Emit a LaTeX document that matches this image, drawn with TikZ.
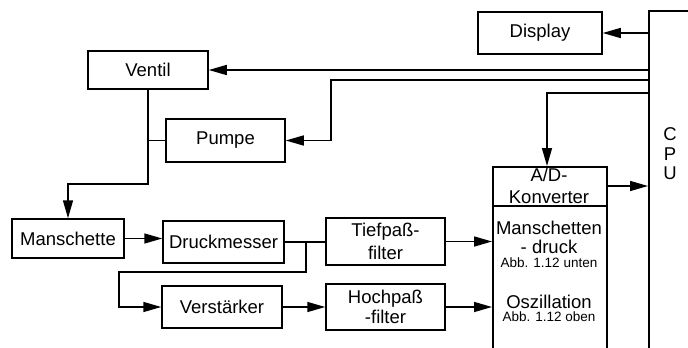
\documentclass[tikz,border=0pt]{standalone}
\usepackage{fontspec}
\setmainfont{Liberation Sans}
\usetikzlibrary{arrows.meta}
\begin{document}
\begin{tikzpicture}[x=1pt,y=-1pt,
  every node/.style={font=\fontsize{18.5}{21}\selectfont},
  box/.style={draw, line width=1.5pt, inner sep=0pt, align=center},
  label/.style={inner sep=0pt, align=center},
  small/.style={inner sep=0pt, font=\fontsize{13.5}{15}\selectfont},
  wire/.style={line width=1.5pt},
  arr/.style={wire, -{Triangle[length=18pt,width=10pt]}}]
\useasboundingbox (0,0) rectangle (688,348);
\fill[white] (0,0) rectangle (688,348);
\begin{scope}
\clip (0,0) rectangle (688,348);

% blocks
\node[box, minimum width=124pt, minimum height=42pt] (display) at (540,33) {Display};
\node[box, minimum width=120pt, minimum height=38pt] (ventil) at (148,70) {Ventil};
\node[box, minimum width=119pt, minimum height=43pt] (pumpe) at (225.5,140.5) {Pumpe};
\node[box, minimum width=112pt, minimum height=39pt] (mansch) at (68,238.5) {Manschette};
\node[box, minimum width=121pt, minimum height=42pt] (druck) at (223.5,242) {Druckmesser};
\node[box, minimum width=120pt, minimum height=42pt] (verst) at (222,307) {Verstärker};
\node[box, minimum width=119pt, minimum height=47pt, font=\fontsize{18.5}{23}\selectfont] (tief) at (385.5,241.5) {Tiefpaß-\\filter};
\node[box, minimum width=119pt, minimum height=46pt, font=\fontsize{18.5}{20}\selectfont] (hoch) at (385.5,307) {Hochpaß\\-filter};

% A/D converter, open towards the bottom
\node[box, anchor=north west, minimum width=114pt, minimum height=220pt] (ad) at (492,166) {};
\coordinate (addiv) at (0,206);
\draw[wire] (ad.west |- addiv) -- (ad.east |- addiv);
\node[label, font=\fontsize{18.5}{22}\selectfont] (adtitle) at (549,186) {A/D-\\Konverter};
\node[label, font=\fontsize{18.5}{19}\selectfont] (admd) at (549,237.5) {Manschetten\\- druck};
\node[small] (adunten) at (549,263) {Abb. 1.12 unten};
\node[label] (adosz) at (549,302) {Oszillation};
\node[small] (adoben) at (549,317) {Abb. 1.12 oben};

% CPU, running off the right and bottom edges
\node[box, anchor=north west, minimum width=80pt, minimum height=400pt] (cpu) at (648,10) {};
\node[label, font=\fontsize{18.5}{19.5}\selectfont] (cputext) at (670,154) {C\\P\\U};

% CPU outputs
\draw[arr] (cpu.west |- display.east) -- (display.east);
\draw[arr] (cpu.west |- ventil.east) -- (ventil.east);
\coordinate (pk) at (331,80);
\draw[arr] (cpu.west |- pk) -- (pk) |- (pumpe.east);
\coordinate (ak) at (547,93);
\draw[arr] (cpu.west |- ak) -- (ak) -- (ak |- ad.north);
\coordinate (ao) at (606,186);
\draw[arr] (ad.east |- ao) -- (cpu.west |- ao);

% pneumatic path
\coordinate (vk) at (0,184);
\draw[arr] (ventil.south) -- (ventil.south |- vk) -| (mansch.north);
\draw[wire] (pumpe.west) -- (pumpe.west -| ventil.south);
\draw[arr] (mansch.east) -- (mansch.east -| druck.west);

% signal path
\draw[wire] (druck.east) -- (druck.east -| tief.west);
\coordinate (bk) at (306,272);
\coordinate (bl) at (119,272);
\draw[arr] (druck.east -| bk) -- (bk) -- (bl) |- (verst.west);
\draw[arr] (verst.east) -- (verst.east -| hoch.west);
\draw[arr] (tief.east) -- (tief.east -| ad.west);
\draw[arr] (hoch.east) -- (hoch.east -| ad.west);
\end{scope}
\end{tikzpicture}
\end{document}
